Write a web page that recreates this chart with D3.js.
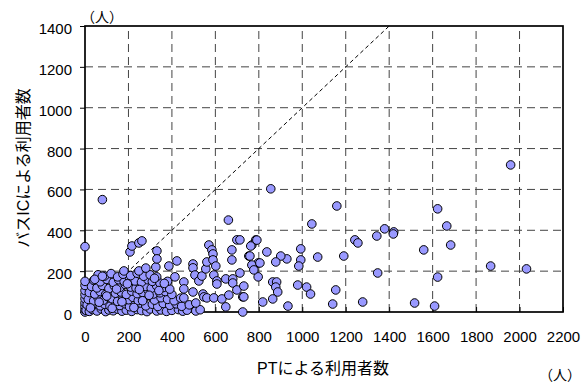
<!DOCTYPE html>
<html>
<head>
<meta charset="utf-8">
<script src="https://cdn.jsdelivr.net/npm/d3@7"></script>
<style>
  body { margin: 0; background: #fff; }
  text { font-family: "Liberation Sans", Arial, "Noto Sans CJK JP", sans-serif; }
</style>
</head>
<body>
<div id="app"></div>
<script>
const xTicks = [0, 200, 400, 600, 800, 1000, 1200, 1400, 1600, 1800, 2000, 2200];
const yTicks = [0, 200, 400, 600, 800, 1000, 1200, 1400];

// [PT users, bus IC users]
const zeroColumn = [
  [0, 0], [0, 12], [0, 28], [0, 45], [0, 65], [0, 85], [0, 105], [0, 130], [0, 150], [0, 320]
];
const clusterLow = [
  [5, 8], [20, 3], [35, 12], [55, 5], [75, 15], [95, 2], [110, 10], [130, 6], [150, 14], [170, 4],
  [190, 9], [215, 3], [240, 12], [260, 7], [285, 2], [300, 15], [330, 5], [350, 10], [375, 3], [400, 8],
  [430, 12], [450, 4], [470, 9], [510, 5], [530, 11],
  [10, 35], [30, 25], [50, 42], [70, 30], [90, 38], [115, 28], [140, 45], [160, 32], [185, 40], [205, 26],
  [230, 36], [255, 44], [280, 30], [310, 38], [335, 27], [360, 42], [390, 33], [420, 40], [445, 28], [480, 35],
  [15, 62], [40, 55], [60, 70], [85, 58], [105, 75], [125, 65], [150, 52], [175, 68], [200, 60], [220, 72],
  [245, 56], [270, 66], [300, 78], [320, 58], [350, 70], [380, 62], [410, 55], [440, 68]
];
const clusterHigh = [
  [20, 95], [45, 88], [70, 100], [95, 85], [120, 105], [140, 92], [165, 98], [190, 86], [215, 102], [240, 90],
  [265, 96], [290, 108], [315, 88], [345, 94], [370, 100], [400, 86],
  [30, 125], [55, 118], [80, 130], [110, 115], [135, 128], [160, 120], [185, 135], [210, 122], [235, 118], [255, 132],
  [280, 125], [305, 116], [330, 128], [360, 120], [390, 112],
  [40, 155], [70, 148], [100, 160], [130, 145], [155, 158], [180, 150], [205, 165], [230, 152], [260, 146], [290, 158],
  [310, 150], [345, 142], [380, 150],
  [60, 182], [90, 176], [120, 188], [150, 172], [175, 185], [210, 178], [240, 190], [270, 175], [300, 182], [330, 172],
  [25, 20], [65, 48], [100, 78], [145, 112], [195, 138], [225, 22], [265, 55], [295, 82], [340, 105], [365, 140],
  [45, 160], [80, 175], [125, 18], [170, 50], [250, 110], [320, 165]
];
const middlePoints = [
  [80, 550], [179, 201], [248, 201], [280, 215], [326, 220], [386, 225], [423, 250], [497, 235], [497, 216], [207, 294],
  [216, 323], [248, 338], [262, 348], [331, 299], [331, 260],
  [414, 172], [455, 147], [455, 113], [455, 69], [497, 98], [506, 181], [510, 44], [524, 152], [538, 176], [556, 211],
  [561, 245], [570, 328], [584, 304], [589, 284], [589, 255], [602, 225], [593, 181], [607, 152], [607, 137], [543, 88],
  [547, 74], [561, 69], [593, 69], [630, 64], [648, 25], [662, 83], [648, 162], [680, 162], [680, 142], [699, 108],
  [676, 304], [676, 255], [699, 353], [726, 74], [726, 0], [713, 191], [713, 353], [731, 127], [731, 74], [754, 274],
  [768, 328], [786, 353], [797, 240], [797, 172], [660, 450]
];
const rightPoints = [
  [855, 603], [1159, 519], [1044, 431], [1379, 407], [1343, 372], [1421, 392], [1419, 382], [1242, 353], [1256, 338], [1559, 304],
  [1347, 191], [1191, 274], [1071, 269], [993, 309], [993, 255], [984, 225], [929, 260], [901, 274], [878, 245], [837, 294],
  [791, 352], [763, 323], [759, 274], [768, 230], [777, 206], [805, 240], [864, 147], [882, 147], [878, 122], [887, 98],
  [864, 64], [818, 49], [934, 29], [979, 132], [1020, 122], [1038, 88], [1154, 108], [1140, 39], [1278, 49], [1517, 44],
  [1609, 29], [1623, 171], [1623, 505], [1959, 720], [1665, 421], [1683, 328], [1867, 225], [2032, 211]
];
const points = [...zeroColumn, ...clusterLow, ...clusterHigh, ...middlePoints, ...rightPoints]
  .map(([px, ic]) => ({ x: px, y: ic }));

const width = 581;
const height = 385;
const margin = { top: 26, right: 18, bottom: 73, left: 85 };

const svg = d3
  .select("#app")
  .append("svg")
  .attr("width", width)
  .attr("height", height)
  .style("display", "block");

const x = d3.scaleLinear().domain([0, 2200]).range([margin.left, width - margin.right]);
const y = d3.scaleLinear().domain([0, 1400]).range([height - margin.bottom, margin.top]);

// grid
svg
  .append("g")
  .selectAll("line")
  .data(xTicks.slice(1, -1))
  .join("line")
  .attr("x1", (d) => x(d))
  .attr("x2", (d) => x(d))
  .attr("y1", y(0))
  .attr("y2", y(1400))
  .attr("stroke", "#444")
  .attr("stroke-dasharray", "8,5");

svg
  .append("g")
  .selectAll("line")
  .data(yTicks.slice(1, -1))
  .join("line")
  .attr("x1", x(0))
  .attr("x2", x(2200))
  .attr("y1", (d) => y(d))
  .attr("y2", (d) => y(d))
  .attr("stroke", "#444")
  .attr("stroke-dasharray", "8,5");

// y = x line
svg
  .append("line")
  .attr("x1", x(0))
  .attr("y1", y(0))
  .attr("x2", x(1400))
  .attr("y2", y(1400))
  .attr("stroke", "#000")
  .attr("stroke-dasharray", "4,3");

// axes
const xAxis = svg
  .append("g")
  .attr("transform", `translate(0,${y(0)})`)
  .call(d3.axisBottom(x).tickValues(xTicks).tickFormat(d3.format("d")).tickSize(-5).tickPadding(19));
const yAxis = svg
  .append("g")
  .attr("transform", `translate(${x(0)},0)`)
  .call(d3.axisLeft(y).tickValues(yTicks).tickFormat(d3.format("d")).tickSize(5).tickPadding(8));

[xAxis, yAxis].forEach((g) => {
  g.select(".domain").remove();
  g.selectAll("text").attr("font-size", 15).attr("fill", "#000")
    .style("font-family", '"Liberation Sans", Arial, sans-serif');
  g.selectAll("line").attr("stroke", "#000");
});
yAxis.selectAll("text").attr("dy", "0.5em");

// frame
svg
  .append("rect")
  .attr("x", x(0))
  .attr("y", y(1400))
  .attr("width", x(2200) - x(0))
  .attr("height", y(0) - y(1400))
  .attr("fill", "none")
  .attr("stroke", "#000")
  .attr("stroke-width", 1.7);

// points
svg
  .append("g")
  .selectAll("circle")
  .data(points)
  .join("circle")
  .attr("cx", (d) => x(d.x))
  .attr("cy", (d) => y(d.y))
  .attr("r", 4.3)
  .attr("fill", "#9999ff")
  .attr("stroke", "#000")
  .attr("stroke-width", 1);

// titles
svg
  .append("text")
  .attr("x", 323)
  .attr("y", 374)
  .attr("text-anchor", "middle")
  .attr("font-size", 16)
  .text("PTによる利用者数");

svg
  .append("text")
  .attr("transform", `translate(29,168) rotate(-90)`)
  .attr("text-anchor", "middle")
  .attr("font-size", 16)
  .text("バスICによる利用者数");

svg
  .append("text")
  .attr("x", x(0) + 17)
  .attr("y", 22)
  .attr("text-anchor", "middle")
  .attr("font-size", 14)
  .text("（人）");

svg
  .append("text")
  .attr("x", 560)
  .attr("y", 380)
  .attr("text-anchor", "middle")
  .attr("font-size", 14)
  .text("（人）");
</script>
</body>
</html>
